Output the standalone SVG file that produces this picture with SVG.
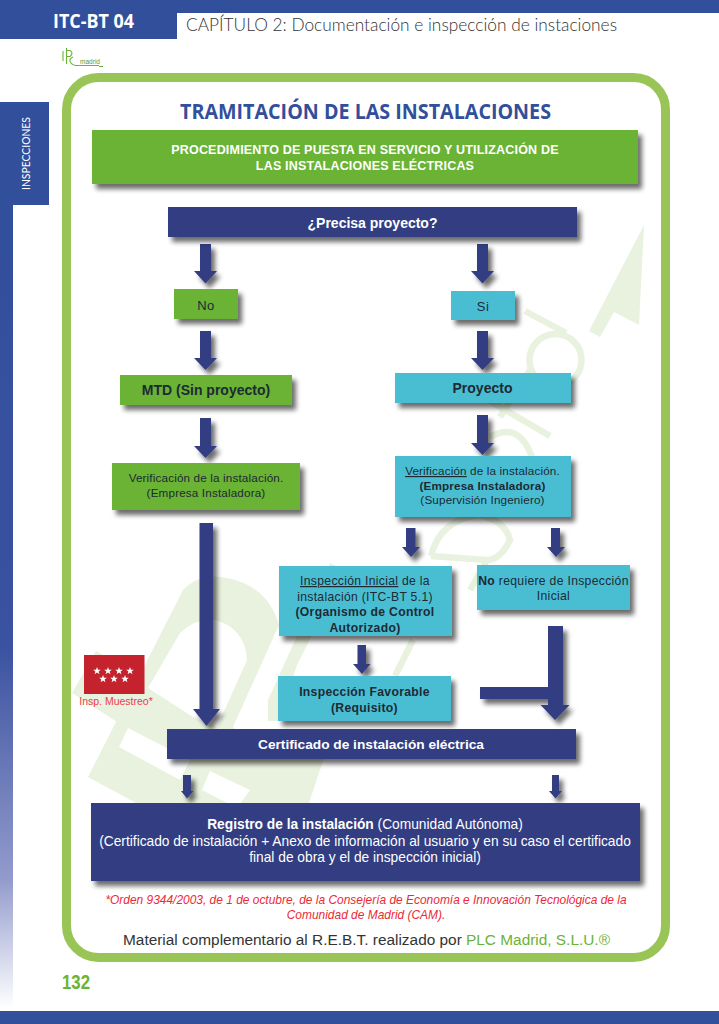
<svg xmlns="http://www.w3.org/2000/svg" xmlns:xlink="http://www.w3.org/1999/xlink" width="719" height="1024" viewBox="0 0 719 1024">
<defs>
<filter id="sh" x="-20%" y="-30%" width="140%" height="170%"><feGaussianBlur in="SourceAlpha" stdDeviation="2.6"/><feOffset dx="4" dy="5"/><feComponentTransfer><feFuncA type="linear" slope="0.58"/></feComponentTransfer><feMerge><feMergeNode/><feMergeNode in="SourceGraphic"/></feMerge></filter>
<linearGradient id="side" x1="0" y1="205" x2="0" y2="1008" gradientUnits="userSpaceOnUse"><stop offset="0" stop-color="#324f9b"/><stop offset="0.55" stop-color="#3a52a0"/><stop offset="0.84" stop-color="#939bcc"/><stop offset="1" stop-color="#ffffff"/></linearGradient>
<polygon id="star" points="0,-4 1,-1.3 3.8,-1.3 1.6,0.5 2.4,3.2 0,1.6 -2.4,3.2 -1.6,0.5 -3.8,-1.3 -1,-1.3" fill="#fff"/>
</defs>
<style>
text{font-family:"Liberation Sans",Arial,sans-serif;text-anchor:middle;fill:#1d2a33}
.w{fill:#fff}
.b{font-weight:700}
.s{font-size:11.7px;letter-spacing:.15px}
.s2{font-size:12.2px;letter-spacing:.3px}
.m{font-size:13px;letter-spacing:.35px}
.h{font-size:14px}
.r{font-size:13.75px}
.green{fill:#6ab335}.cyan{fill:#49bed3}.navy{fill:#323c82}
.pale{fill:#e9f2df}
.pl{fill:none;stroke:#e9f2df;stroke-width:6.5}
.arrow{fill:#323c82}
.red{fill:#ea2a37;font-size:11.95px;font-style:italic}
</style>
<rect width="719" height="1024" fill="#fff"/>
<g id="page-chrome">
<rect x="0" y="0" width="719" height="13" fill="#324f9b"/>
<rect x="0" y="0" width="177" height="39" fill="#324f9b"/>
<rect x="0" y="1011" width="719" height="13" fill="#324f9b"/>
<rect x="0" y="205" width="13" height="803" fill="url(#side)"/>
<rect x="0" y="102" width="49" height="103" fill="#324f9b"/>
<text x="93.500" y="28" class="w b" style="font-family:'Open Sans','Liberation Sans',sans-serif;font-size:19px" textLength="81" lengthAdjust="spacingAndGlyphs">ITC-BT 04</text>
<text x="401.500" y="31" style="font-family:Lato,'Liberation Sans',sans-serif;font-size:17px;font-weight:300;fill:#333" textLength="431" lengthAdjust="spacingAndGlyphs">CAPÍTULO 2: Documentación e inspección de instaciones</text>
<text transform="translate(29.500 153.500) rotate(-90)" class="w" style="font-family:Lato,'Liberation Sans',sans-serif;font-size:10.500px" textLength="73" lengthAdjust="spacingAndGlyphs">INSPECCIONES</text>
<text x="76" y="989" style="fill:#6ab335;font-family:'Liberation Sans',sans-serif;font-weight:700;font-size:20px" textLength="28" lengthAdjust="spacingAndGlyphs">132</text>
</g>
<g id="logo" fill="none" stroke="#6ab335" stroke-width="1.100">
<path d="M63 51V61M66.500 48V64M66.500 50.500H70Q74 53 70 56.500H66.500M73 57Q68 59 71 63Q73 66 80 65.500H99M99 66.500H103"/>
<text x="90" y="64" style="font-family:'Liberation Sans',sans-serif;font-size:7px;fill:#5a9a35;stroke:none" textLength="20" lengthAdjust="spacingAndGlyphs">madrid</text>
</g>
<g id="watermark">
<path class="pale" fill-rule="evenodd" d="M88,777 L183,590 Q200,572 227,578 Q268,586 279,625 L233,727 L262,759 L320,759 L330,740 L309,803 L136,803 Z M148,688 L180,633 Q195,618 215,620 Q245,628 247,660 L217,727 L193,717 Z M128,728 L119,747 L180,780 L190,760 Z M210,771 L202,790 L237,808 L250,790 Z"/>
<polygon class="pale" points="72,693 96,651 140,677 117,722"/>
<polygon class="pale" points="330,563 345,570 297,665 289,690 285,721 268,721 268,700"/>
<polygon class="pale" points="644,225 639,325 614,312 600,337 589,331"/>
<path class="pl" d="M525,311 L566,333"/>
<circle class="pl" cx="555.500" cy="360" r="26"/>
<path class="pl" d="M483,397 L550,436M532,367 L500,417"/>
<path class="pl" d="M490,437 Q520,420 533,460"/>
<path class="pl" d="M431,556 Q440,520 478,515 Q505,520 510,540 Q500,560 487,560 L431,556M487,560 L470,590"/>
<path class="pl" d="M413,640 L395,676"/>
</g>
<g id="frame"><rect x="66.500" y="77.500" width="599" height="880" rx="32" fill="none" stroke="#98c556" stroke-width="9"/></g>
<text id="title" x="365.500" y="119" class="b" style="font-family:'Open Sans','Liberation Sans',sans-serif;font-size:21px;fill:#324f9b" textLength="371" lengthAdjust="spacingAndGlyphs">TRAMITACIÓN DE LAS INSTALACIONES</text>
<g id="connectors" filter="url(#sh)" class="arrow">
<polygon points="200,244 211,244 211,271 217,271 205.500,283.500 194,271 200,271"/>
<polygon points="477,244 488,244 488,271 494,271 482.500,283.500 471,271 477,271"/>
<polygon points="200,331 211,331 211,358 217,358 205.500,370 194,358 200,358"/>
<polygon points="477,331 488,331 488,358 494,358 482.500,370 471,358 477,358"/>
<polygon points="200,418 211,418 211,446 217,446 205.500,458 194,446 200,446"/>
<polygon points="477,415 488,415 488,443 494,443 482.500,455 471,443 477,443"/>
<polygon points="199.500,523 213,523 213,709 220,709 206.500,726 193,709 199.500,709"/>
<polygon points="406,528 415.500,528 415.500,547 420,547 411,557 402,547 406,547"/>
<polygon points="551,528 560,528 560,547 565,547 556,557 547,547 551,547"/>
<polygon points="357.500,645 366,645 366,664 370.500,664 362,674 353,664 357.500,664"/>
<polygon points="548,626 563,626 563,705 569.500,705 555,720 540.500,705 548,705 548,699 480,699 480,687 548,687"/>
<polygon points="183,775 191,775 191,791 193.500,791 187,798.500 181,791 183,791"/>
<polygon points="552,775 559,775 559,791 562,791 555.500,798.500 549,791 552,791"/>
</g>
<g id="n-procedimiento"><rect class="green" x="92" y="130" width="546" height="54" filter="url(#sh)"/>
<text x="365" y="154" class="w b" style="font-size:12.500px;letter-spacing:.19px">PROCEDIMIENTO DE PUESTA EN SERVICIO Y UTILIZACIÓN DE</text>
<text x="365" y="170" class="w b" style="font-size:12.500px;letter-spacing:.19px">LAS INSTALACIONES ELÉCTRICAS</text></g>
<g id="n-precisa"><rect class="navy" x="168" y="207" width="409" height="30" filter="url(#sh)"/><text x="372.500" y="227.500" class="w b h">¿Precisa proyecto?</text></g>
<g id="n-no"><rect class="green" x="174" y="289" width="64" height="30" filter="url(#sh)"/><text x="206" y="310" class="m">No</text></g>
<g id="n-si"><rect class="cyan" x="451" y="291" width="64" height="29" filter="url(#sh)"/><text x="483" y="311" class="m">Si</text></g>
<g id="n-mtd"><rect class="green" x="120" y="375" width="172" height="30" filter="url(#sh)"/><text x="206" y="395" class="b h">MTD (Sin proyecto)</text></g>
<g id="n-proyecto"><rect class="cyan" x="395" y="373" width="176" height="30" filter="url(#sh)"/><text x="482.500" y="393" class="b h">Proyecto</text></g>
<g id="n-verif-l"><rect class="green" x="112" y="463" width="188" height="47" filter="url(#sh)"/><text x="206" y="482" class="s">Verificación de la instalación.</text><text x="206" y="497" class="s">(Empresa Instaladora)</text></g>
<g id="n-verif-r"><rect class="cyan" x="395" y="456" width="176" height="61" filter="url(#sh)"/><text x="482.500" y="475" class="s"><tspan text-decoration="underline">Verificación</tspan> de la instalación.</text><text x="482.500" y="490" class="s b">(Empresa Instaladora)</text><text x="482.500" y="504" class="s">(Supervisión Ingeniero)</text></g>
<g id="n-insp"><rect class="cyan" x="279" y="566" width="173" height="70" filter="url(#sh)"/><text x="365" y="585" class="s2"><tspan text-decoration="underline">Inspección Inicial</tspan> de la</text><text x="365" y="601" class="s2">instalación (ITC-BT 5.1)</text><text x="365" y="616" class="s2 b">(Organismo de Control</text><text x="365" y="632" class="s2 b">Autorizado)</text></g>
<g id="n-norequiere"><rect class="cyan" x="477" y="565" width="153" height="45" filter="url(#sh)"/><text x="553.500" y="585" class="s2"><tspan class="b">No</tspan> requiere de Inspección</text><text x="553.500" y="600" class="s2">Inicial</text></g>
<g id="n-favorable"><rect class="cyan" x="278" y="676" width="173" height="45" filter="url(#sh)"/><text x="364.500" y="696" class="s2 b">Inspección Favorable</text><text x="364.500" y="712" class="s2 b">(Requisito)</text></g>
<g id="n-muestreo"><rect x="84" y="655" width="60.500" height="39" fill="#c4232d"/>
<use xlink:href="#star" href="#star" x="97" y="671"/><use xlink:href="#star" href="#star" x="108" y="671"/><use xlink:href="#star" href="#star" x="119" y="671"/><use xlink:href="#star" href="#star" x="130" y="671"/><use xlink:href="#star" href="#star" x="103" y="679"/><use xlink:href="#star" href="#star" x="114" y="679"/><use xlink:href="#star" href="#star" x="125" y="679"/>
<text x="116" y="705" style="fill:#e8404a;font-size:10.500px">Insp. Muestreo*</text></g>
<g id="n-certificado"><rect class="navy" x="167" y="729" width="409" height="30" filter="url(#sh)"/><text x="371" y="749" class="w b" style="font-size:13.700px">Certificado de instalación eléctrica</text></g>
<g id="n-registro"><rect class="navy" x="91" y="803" width="549" height="78" filter="url(#sh)"/>
<text x="365" y="829" class="w r"><tspan class="w b">Registro de la instalación</tspan> (Comunidad Autónoma)</text>
<text x="365" y="846" class="w r">(Certificado de instalación + Anexo de información al usuario y en su caso el certificado</text>
<text x="365" y="862" class="w r">final de obra y el de inspección inicial)</text></g>
<g id="notes">
<text x="366" y="904" class="red">*Orden 9344/2003, de 1 de octubre, de la Consejería de Economía e Innovación Tecnológica de la</text>
<text x="366" y="919" class="red">Comunidad de Madrid (CAM).</text>
<text x="366.500" y="945" style="font-size:15.400px;fill:#333">Material complementario al R.E.B.T. realizado por <tspan style="fill:#6ab335">PLC Madrid, S.L.U.®</tspan></text>
</g>
</svg>
